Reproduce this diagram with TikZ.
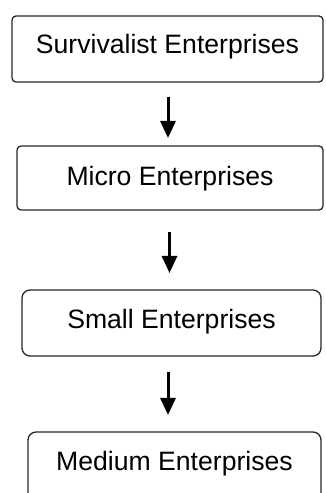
\documentclass[tikz,border=0pt]{standalone}
\usepackage{fontspec}
\setmainfont{Liberation Sans}
\usetikzlibrary{arrows.meta}
\begin{document}
\begin{tikzpicture}[x=1pt,y=1pt,
  stagebox/.style={draw=black!85, line width=1.3pt, inner sep=0pt,
    font=\fontsize{26.6}{32}\selectfont, anchor=base, align=center},
  flowarrow/.style={line width=3pt, -{Triangle[width=15pt,length=17pt]}}]
\useasboundingbox (0,0) rectangle (325,493);
\clip (0,0) rectangle (325,493);

% enterprise stages, top to bottom
\node[stagebox, rounded corners=4pt, minimum width=311pt,
  text height=37.5pt, text depth=28.5pt] (surv) at (167.5,439.5) {Survivalist Enterprises};
\node[stagebox, rounded corners=4pt, minimum width=306pt,
  text height=40pt, text depth=24pt] (micro) at (170,307) {Micro Enterprises};
\node[stagebox, rounded corners=8pt, minimum width=299pt,
  text height=39pt, text depth=27pt] (small) at (171.5,164) {Small Enterprises};
\node[stagebox, rounded corners=8pt, minimum width=293pt,
  text height=38pt, text depth=40pt] (medium) at (174.5,23) {Medium Enterprises};

% arrow ends between the boxes
\coordinate (a1s) at (168,396);
\coordinate (a1e) at (168,355);
\coordinate (a2s) at (169.5,261);
\coordinate (a2e) at (169.5,220);
\coordinate (a3s) at (168,121);
\coordinate (a3e) at (168,78);

\draw[flowarrow] (a1s) -- (a1e);
\draw[flowarrow] (a2s) -- (a2e);
\draw[flowarrow] (a3s) -- (a3e);
\end{tikzpicture}
\end{document}
